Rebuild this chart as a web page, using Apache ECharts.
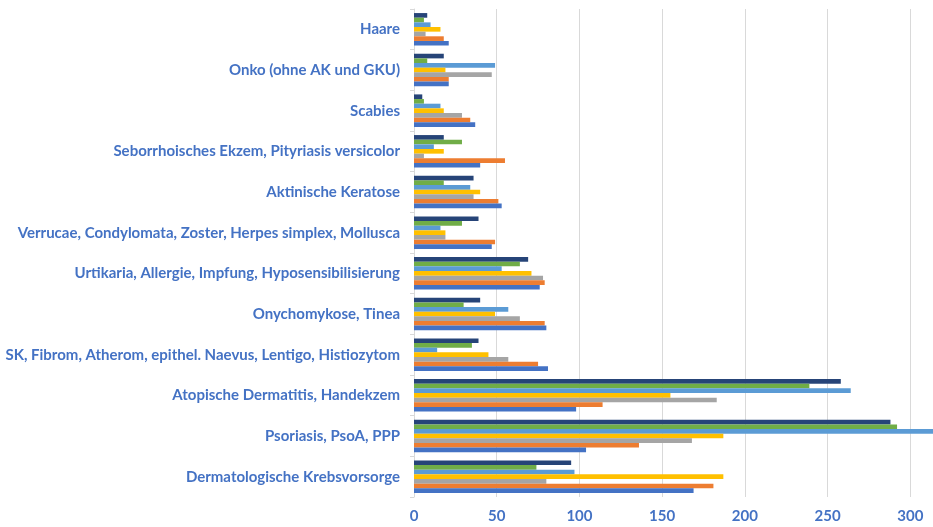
<!DOCTYPE html>
<html>
<head>
<meta charset="utf-8">
<style>
  html, body { margin: 0; padding: 0; background: #ffffff; }
  #chart { width: 933px; height: 527px; }
</style>
<script src="https://cdn.jsdelivr.net/npm/echarts@6/dist/echarts.min.js"></script>
</head>
<body>
<div id="chart"></div>
<script>
// Diagnosis groups, listed bottom to top along the category axis
const categories = [
  'Dermatologische Krebsvorsorge',
  'Psoriasis, PsoA, PPP',
  'Atopische Dermatitis, Handekzem',
  'SK, Fibrom, Atherom, epithel. Naevus, Lentigo, Histiozytom',
  'Onychomykose, Tinea',
  'Urtikaria, Allergie, Impfung, Hyposensibilisierung',
  'Verrucae, Condylomata, Zoster, Herpes simplex, Mollusca',
  'Aktinische Keratose',
  'Seborrhoisches Ekzem, Pityriasis versicolor',
  'Scabies',
  'Onko (ohne AK und GKU)',
  'Haare'
];

// One array per series, same order as categories
const serie1 = [169, 104, 98, 81, 80, 76, 47, 53, 40, 37, 21, 21];
const serie2 = [181, 136, 114, 75, 79, 79, 49, 51, 55, 34, 21, 18];
const serie3 = [80, 168, 183, 57, 64, 78, 19, 36, 6, 29, 47, 7];
const serie4 = [187, 187, 155, 45, 49, 71, 19, 40, 18, 18, 19, 16];
const serie5 = [97, 320, 264, 14, 57, 53, 16, 34, 12, 16, 49, 10];
const serie6 = [74, 292, 239, 35, 30, 64, 29, 18, 29, 6, 8, 6];
const serie7 = [95, 288, 258, 39, 40, 69, 39, 36, 18, 5, 18, 8];

const xTicks = { min: 0, max: 350, interval: 50 };

// Listed top bar first within each group (the bar axis stacks series downward)
const seriesData = [
  { name: 'Serie 7', data: serie7, color: '#264478' },
  { name: 'Serie 6', data: serie6, color: '#70AD47' },
  { name: 'Serie 5', data: serie5, color: '#5B9BD5' },
  { name: 'Serie 4', data: serie4, color: '#FFC000' },
  { name: 'Serie 3', data: serie3, color: '#A5A5A5' },
  { name: 'Serie 2', data: serie2, color: '#ED7D31' },
  { name: 'Serie 1', data: serie1, color: '#4472C4' }
];

const chart = echarts.init(document.getElementById('chart'), null, { renderer: 'canvas' });

chart.setOption({
  animation: false,
  backgroundColor: '#ffffff',
  grid: {
    left: 414, top: 9, bottom: 30, right: -60,
    containLabel: false,
    outerBoundsMode: 'none'
  },
  xAxis: {
    type: 'value',
    min: xTicks.min,
    max: xTicks.max,
    interval: xTicks.interval,
    axisLine: { show: false },
    axisTick: { show: false },
    splitLine: { show: true, lineStyle: { color: '#d9d9d9', width: 1 } },
    axisLabel: {
      color: '#4472C4',
      fontFamily: 'Lato, "Open Sans", sans-serif',
      fontWeight: 'bold',
      fontSize: 15,
      margin: 12
    }
  },
  yAxis: {
    type: 'category',
    data: categories,
    axisLine: { show: true, lineStyle: { color: '#d9d9d9', width: 1 } },
    axisTick: { show: true, length: 4, lineStyle: { color: '#d9d9d9' } },
    axisLabel: {
      color: '#4472C4',
      fontFamily: 'Lato, "Open Sans", sans-serif',
      fontWeight: 'bold',
      fontSize: 15,
      margin: 14
    }
  },
  series: seriesData.map(s => ({
    name: s.name,
    type: 'bar',
    data: s.data,
    barGap: '0%',
    barCategoryGap: '20%',
    itemStyle: { color: s.color }
  }))
});
</script>
</body>
</html>
